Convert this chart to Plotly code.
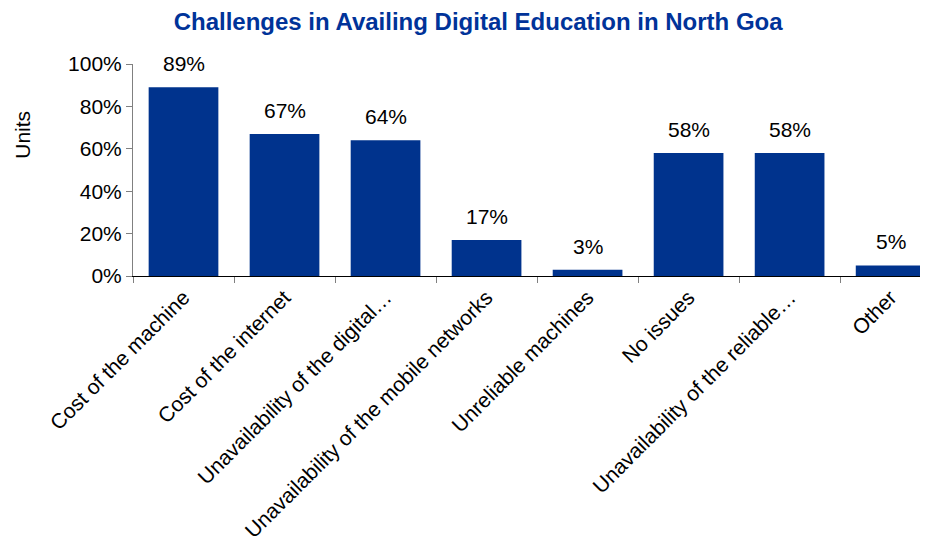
import plotly.graph_objects as go

# Data
categories = [
    "Cost of the machine",
    "Cost of the internet",
    "Unavailability of the digital…",
    "Unavailability of the mobile networks",
    "Unreliable machines",
    "No issues",
    "Unavailability of the reliable…",
    "Other",
]
shares = [0.89, 0.67, 0.64, 0.17, 0.03, 0.58, 0.58, 0.05]
y_ticks = [0, 0.2, 0.4, 0.6, 0.8, 1.0]

bar_color = "#00338D"
font_family = "Liberation Sans, Arial, sans-serif"

fig = go.Figure()

fig.add_trace(go.Bar(
    x=categories,
    y=shares,
    marker=dict(color=bar_color, line=dict(width=0)),
    width=0.69,
    showlegend=False,
    hoverinfo="skip",
))

# Value labels above the bars
for cat, val in zip(categories, shares):
    fig.add_annotation(
        x=cat, y=val,
        text=f"{val * 100:.0f}%",
        showarrow=False,
        yanchor="bottom",
        yshift=10,
        font=dict(family=font_family, size=21, color="#000000"),
    )

# Y-axis title placed like the original
fig.add_annotation(
    text="Units",
    xref="paper", yref="paper",
    x=-0.14, y=0.665,
    xanchor="center", yanchor="middle",
    textangle=-90,
    showarrow=False,
    font=dict(family=font_family, size=21, color="#000000"),
)

# page body adds an 8px offset, so the figure is 8px smaller and margins shifted
fig.update_layout(
    width=920,
    height=540,
    margin=dict(l=125, r=0, t=56, b=272, autoexpand=False),
    plot_bgcolor="white",
    paper_bgcolor="white",
    font=dict(family=font_family, size=21, color="#000000"),
    title=dict(
        text="<b>Challenges in Availing Digital Education in North Goa</b>",
        xref="container", x=0.511, xanchor="center",
        yref="container", y=0.974, yanchor="middle",
        font=dict(family=font_family, size=24, color="#003399"),
    ),
    xaxis=dict(
        range=[-0.5, 7.37],
        tickangle=-45,
        tickson="boundaries",
        ticks="outside",
        ticklen=6,
        tickcolor="#808080",
        showline=True,
        linecolor="#000000",
        linewidth=1,
        showgrid=False,
        automargin=False,
        tickfont=dict(family=font_family, size=21, color="#000000"),
    ),
    yaxis=dict(
        range=[0, 1.0],
        tickvals=y_ticks,
        tickformat=".0%",
        ticks="outside",
        ticklen=6,
        tickcolor="#808080",
        showline=True,
        linecolor="#808080",
        linewidth=1,
        showgrid=False,
        zeroline=False,
        automargin=False,
        tickfont=dict(family=font_family, size=21, color="#000000"),
    ),
    bargap=0.31,
)

fig.write_html("out.html")
